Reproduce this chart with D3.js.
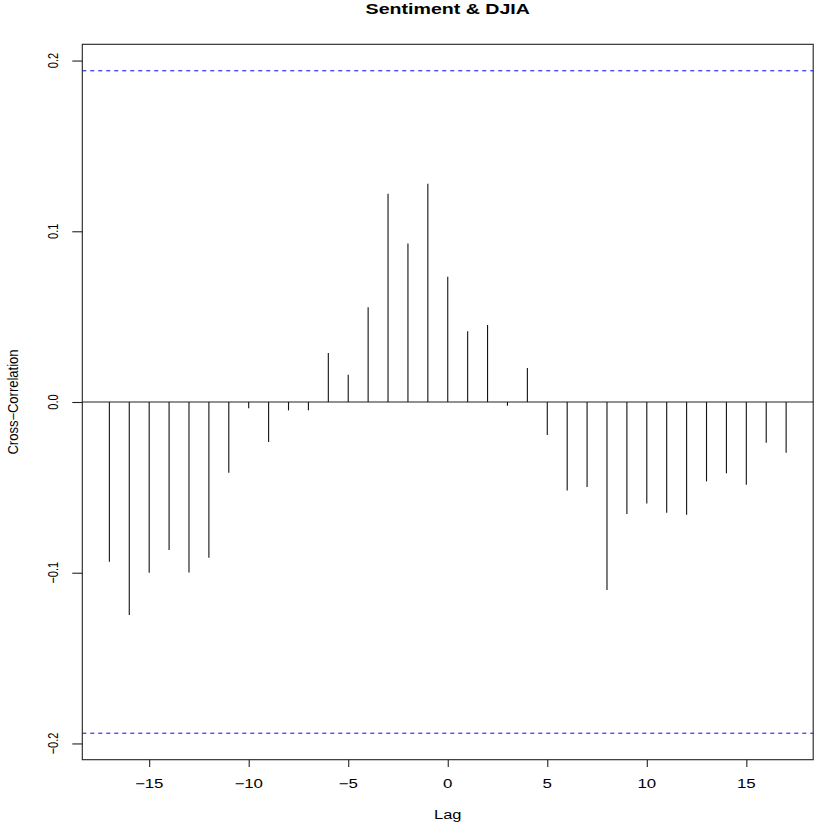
<!DOCTYPE html>
<html>
<head>
<meta charset="utf-8">
<script src="https://cdn.jsdelivr.net/npm/d3@7"></script>
<style>
    body { margin: 0; background: #fff; }
    text { font-family: "Liberation Sans", Arial, Helvetica, sans-serif; fill: #000; }
</style>
</head>
<body>
<div id="ccf-graphic"></div>
<script>
// lags and cross-correlation values
let lags = [-17, -16, -15, -14, -13, -12, -11, -10, -9, -8, -7, -6, -5, -4, -3, -2, -1,
    0, 1, 2, 3, 4, 5, 6, 7, 8, 9, 10, 11, 12, 13, 14, 15, 16, 17];
let ccfValues = [-0.0935, -0.1247, -0.1000, -0.0867, -0.0998, -0.0912, -0.0414, -0.0037,
    -0.0234, -0.0049, -0.0049, 0.0287, 0.0160, 0.0555, 0.1220, 0.0929, 0.1279,
    0.0734, 0.0414, 0.0451, -0.0022, 0.0199, -0.0193, -0.0519, -0.0498, -0.1101,
    -0.0656, -0.0594, -0.0649, -0.0661, -0.0465, -0.0418, -0.0484, -0.0238, -0.0297];
let ciBounds = [0.194, -0.194];
let xTicks = [-15, -10, -5, 0, 5, 10, 15];
let xTickLabels = ["\u221215", "\u221210", "\u22125", "0", "5", "10", "15"];
let yTicks = [-0.2, -0.1, 0.0, 0.1, 0.2];
let yTickLabels = ["\u22120.2", "\u22120.1", "0.0", "0.1", "0.2"];
let title = "Sentiment & DJIA";
let xLabel = "Lag";
let yLabel = "Cross\u2212Correlation";

var width = 830,
    height = 830;
var margin = { top: 44.3, right: 16.8, bottom: 70.3, left: 82.3 };

// the reference is stretched sideways, so text gets a horizontal scale
var stretch = 1.37;

var svg = d3.select("#ccf-graphic").append("svg")
    .attr("width", width)
    .attr("height", height);

// R pads the range by 4% on each side
var xMin = d3.min(lags), xMax = d3.max(lags);
var xPad = (xMax - xMin) * 0.04;
var yPad = (ciBounds[0] - ciBounds[1]) * 0.04;

var x = d3.scaleLinear()
    .domain([xMin - xPad, xMax + xPad])
    .range([margin.left, width - margin.right]);
var y = d3.scaleLinear()
    .domain([ciBounds[1] - yPad, ciBounds[0] + yPad])
    .range([height - margin.bottom, margin.top]);

// zero line
svg.append("line")
    .attr("x1", x.range()[0]).attr("x2", x.range()[1])
    .attr("y1", y(0)).attr("y2", y(0))
    .attr("stroke", "#222").attr("stroke-width", 1);

// confidence bounds
svg.selectAll(".ci")
    .data(ciBounds)
    .enter()
    .append("line")
    .attr("class", "ci")
    .attr("x1", x.range()[0]).attr("x2", x.range()[1])
    .attr("y1", function (d) { return y(d); })
    .attr("y2", function (d) { return y(d); })
    .attr("stroke", "#0000ff")
    .attr("stroke-width", 1)
    .attr("stroke-dasharray", "4,4");

// spikes
svg.selectAll(".spike")
    .data(lags)
    .enter()
    .append("line")
    .attr("class", "spike")
    .attr("x1", function (d) { return x(d); })
    .attr("x2", function (d) { return x(d); })
    .attr("y1", y(0))
    .attr("y2", function (d, i) { return y(ccfValues[i]); })
    .attr("stroke", "#111")
    .attr("stroke-width", 1.1);

// box
svg.append("rect")
    .attr("x", x.range()[0])
    .attr("y", y.range()[1])
    .attr("width", x.range()[1] - x.range()[0])
    .attr("height", y.range()[0] - y.range()[1])
    .attr("fill", "none")
    .attr("stroke", "#222")
    .attr("stroke-width", 1.1);

// axes (ticks only, the box stands in for the domain line)
var xAxis = d3.axisBottom(x)
    .tickValues(xTicks)
    .tickSize(7.3)
    .tickFormat("");
var gx = svg.append("g")
    .attr("transform", "translate(0," + y.range()[0] + ")")
    .call(xAxis);
gx.select(".domain").remove();

var yAxis = d3.axisLeft(y)
    .tickValues(yTicks)
    .tickSize(10)
    .tickFormat("");
var gy = svg.append("g")
    .attr("transform", "translate(" + x.range()[0] + ",0)")
    .call(yAxis);
gy.select(".domain").remove();
svg.selectAll(".tick line").attr("stroke", "#222").attr("stroke-width", 1.1);

// x tick labels
svg.selectAll(".xlab")
    .data(xTicks)
    .enter()
    .append("text")
    .attr("class", "xlab")
    .attr("transform", function (d) { return "translate(" + x(d) + ",788) scale(" + stretch + ",1)"; })
    .attr("text-anchor", "middle")
    .style("font-size", "12.3px")
    .text(function (d, i) { return xTickLabels[i]; });

// y tick labels, rotated like R's las=0
svg.selectAll(".ylab")
    .data(yTicks)
    .enter()
    .append("text")
    .attr("class", "ylab")
    .attr("transform", function (d) { return "translate(57.5," + y(d) + ") scale(1.34,1) rotate(-90)"; })
    .attr("text-anchor", "middle")
    .style("font-size", "11px")
    .text(function (d, i) { return yTickLabels[i]; });

// title and axis titles
svg.append("text")
    .attr("transform", "translate(" + (x.range()[0] + x.range()[1]) / 2 + ",14) scale(1.4,1)")
    .attr("text-anchor", "middle")
    .style("font-size", "14px")
    .style("font-weight", "bold")
    .text(title);

svg.append("text")
    .attr("transform", "translate(" + (x.range()[0] + x.range()[1]) / 2 + ",819) scale(" + stretch + ",1)")
    .attr("text-anchor", "middle")
    .style("font-size", "12px")
    .text(xLabel);

svg.append("text")
    .attr("transform", "translate(17.5," + (y.range()[0] + y.range()[1]) / 2 + ") scale(1.07,1) rotate(-90)")
    .attr("text-anchor", "middle")
    .style("font-size", "13px")
    .text(yLabel);
</script>
</body>
</html>
